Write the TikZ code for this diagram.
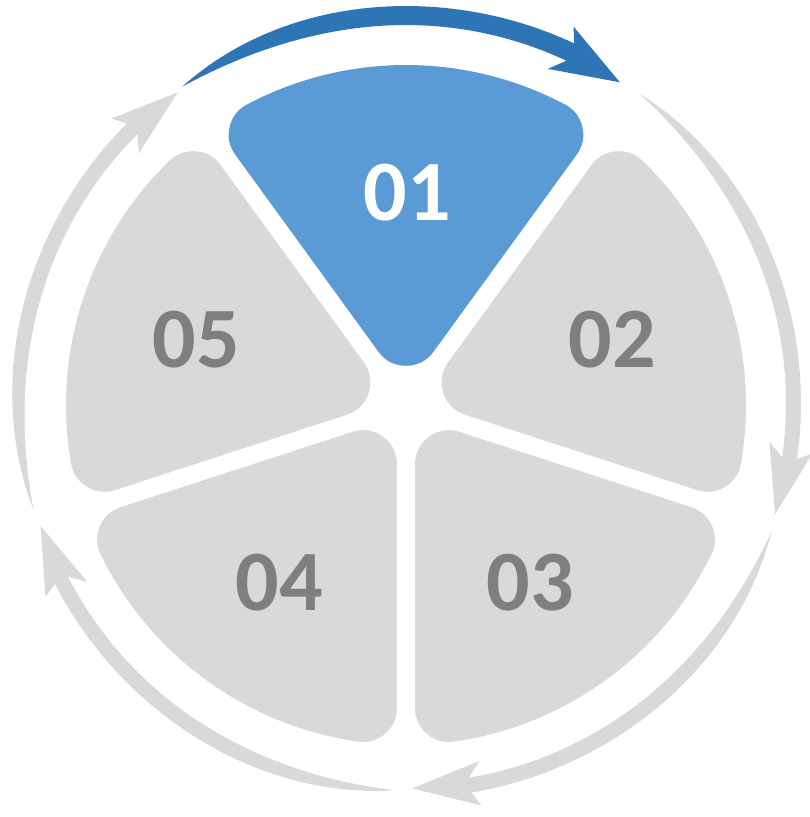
\documentclass[tikz,border=0pt]{standalone}
\usepackage{fontspec}
\setmainfont{Carlito}
\definecolor{segblue}{HTML}{5B9BD5}
\definecolor{arrowblue}{HTML}{2E75B6}
\definecolor{seggray}{HTML}{D9D9D9}
\definecolor{labelgray}{HTML}{7F7F7F}
\newcommand{\Rr}{387.5}
% tail angle, tip angle, shaft width, half head width, colour
\newcommand{\cyclearrow}[5]{%
  \pgfmathsetmacro{\aback}{#2+8.6}
  \pgfmathsetmacro{\abo}{#2+9.7}
  \pgfmathsetmacro{\abi}{#2+10.7}
  \fill[#5] plot[domain=0:1,samples=60] ({#1-\x*(#1-\aback)}:{\Rr+0.5*#3*(1-(1-min(1,\x/0.6))^3)})
    -- (\abo:{\Rr+#4}) -- (#2:{\Rr-2}) -- (\abi:{\Rr-#4})
    -- plot[domain=0:1,samples=60] ({\aback+\x*(#1-\aback)}:{\Rr-0.5*#3*(1-(1-min(1,(1-\x)/0.6))^3)})
    -- cycle;
}
\tikzset{
  wedge/.style={line width=68pt,line join=round,draw=#1,fill=#1},
  numlabel/.style={font=\fontsize{86}{86}\selectfont\bfseries,text=#1}
}
\begin{document}
\begin{tikzpicture}[x=1pt,y=1pt]
\useasboundingbox (-406,-412) rectangle (404,405);
\foreach \a/\c in {90/segblue,18/seggray,-54/seggray,-126/seggray,-198/seggray}
  \path[wedge=\c] (\a:73.2) -- ({\a-27.92}:306) arc[start angle={\a-27.92},end angle={\a+27.92},radius=306] -- cycle;
\node[numlabel=white] (t01) at (1,212) {01};
\node[numlabel=labelgray] (t02) at (206,65) {02};
\node[numlabel=labelgray] (t03) at (124,-178) {03};
\node[numlabel=labelgray] (t04) at (-127,-178) {04};
\node[numlabel=labelgray] (t05) at (-210,65) {05};
\begin{scope}[shift={(0,2)}]
  \cyclearrow{125.3}{56.3}{19}{24.5}{arrowblue}
  \foreach \k in {1,...,4}{
    \pgfmathsetmacro{\tailang}{125.3-72.3*\k}
    \pgfmathsetmacro{\tipang}{\tailang-69.8}
    \cyclearrow{\tailang}{\tipang}{15}{22}{seggray}
  }
\end{scope}
\end{tikzpicture}
\end{document}
